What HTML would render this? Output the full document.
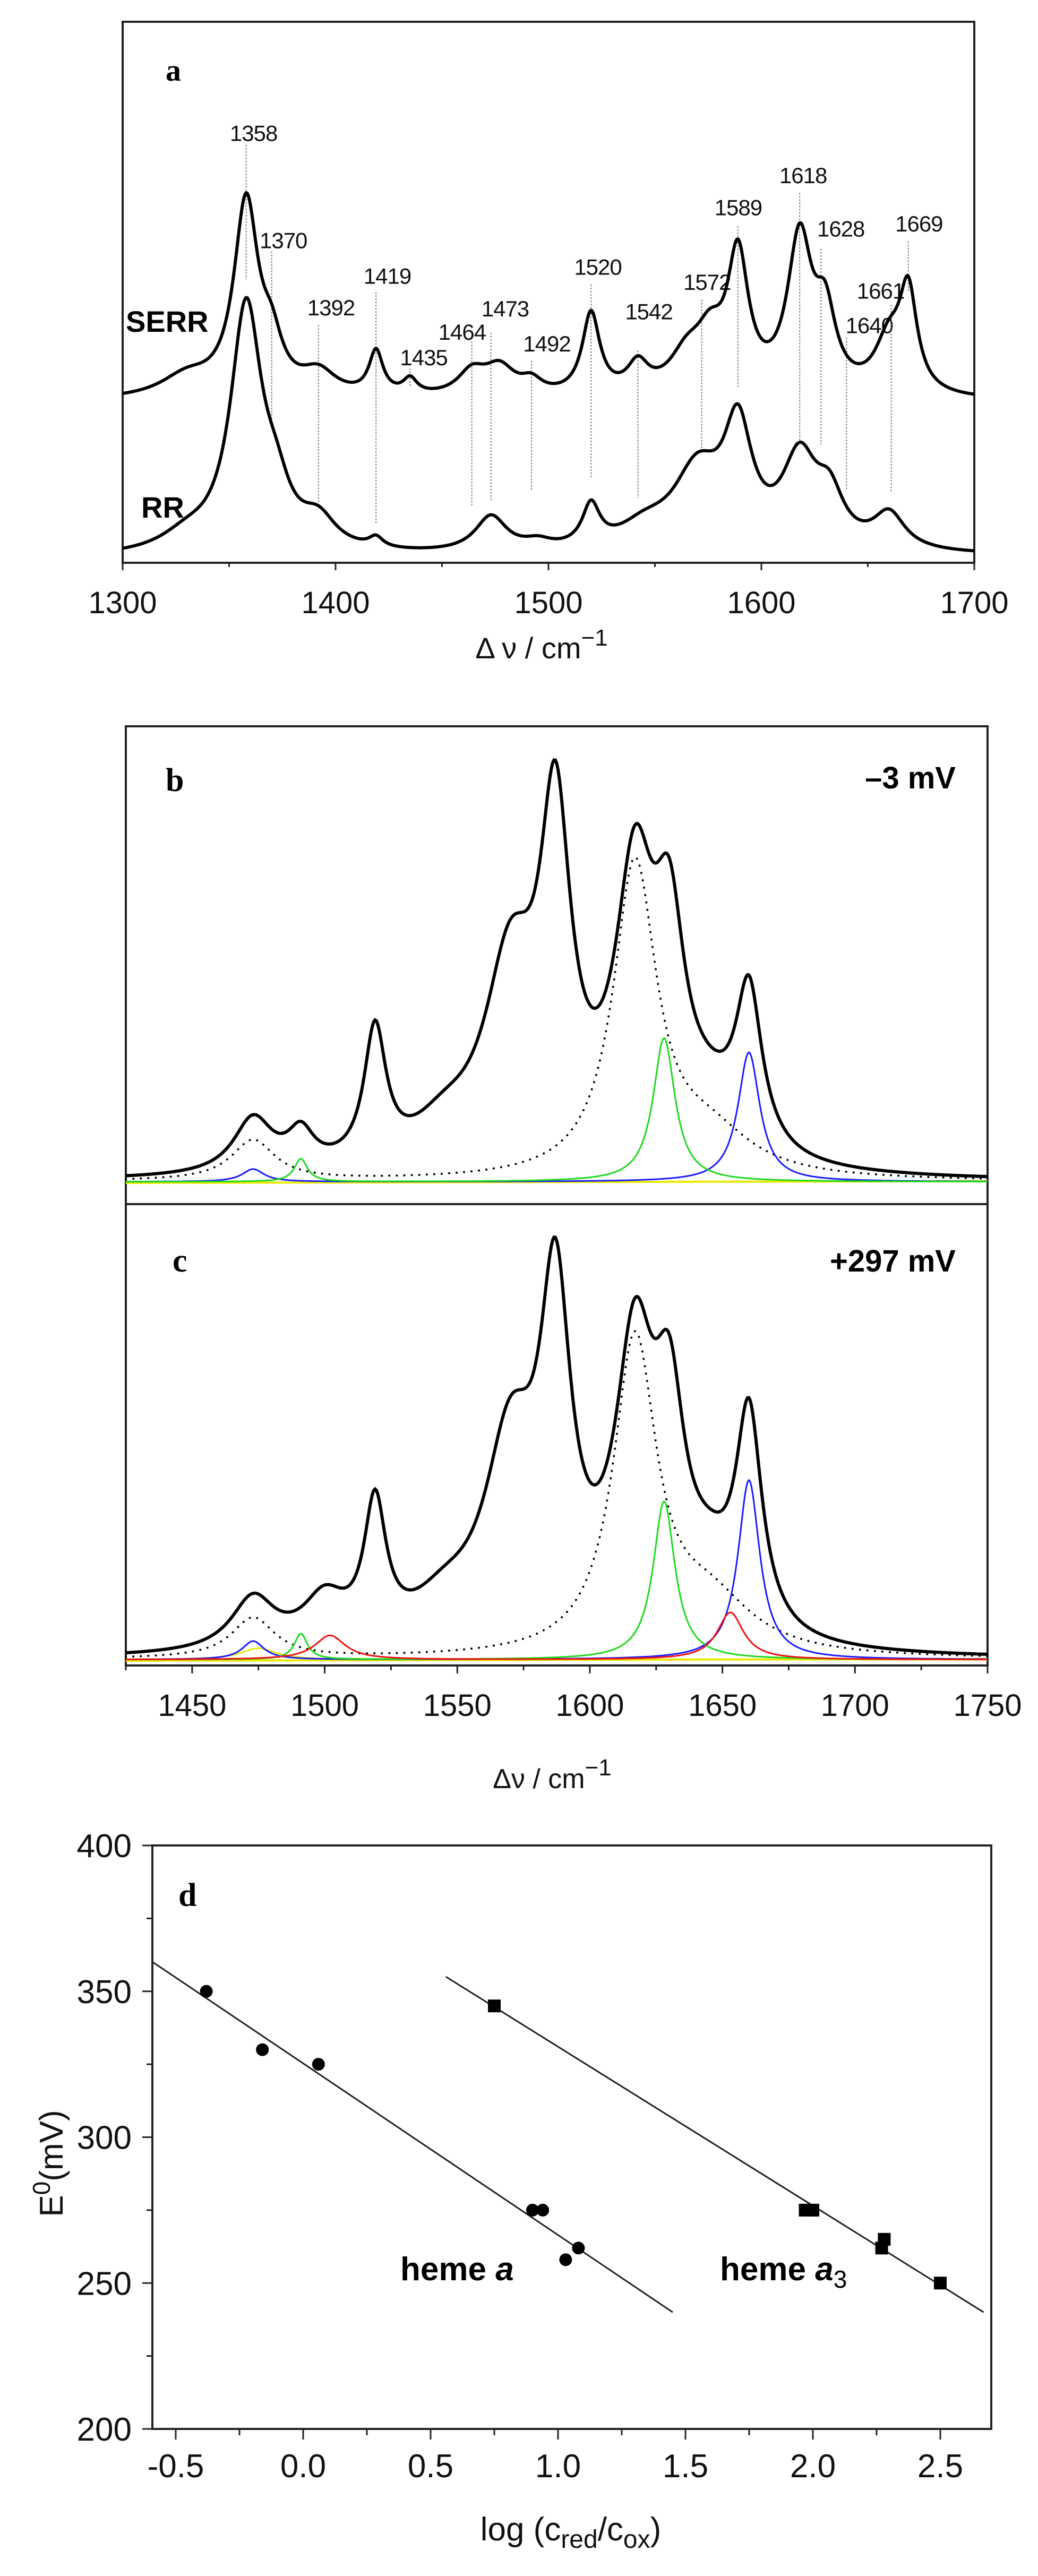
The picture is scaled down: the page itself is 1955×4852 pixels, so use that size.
<!DOCTYPE html>
<html><head><meta charset="utf-8"><style>
html,body{margin:0;padding:0;background:#fff;}
svg{display:block;font-family:"Liberation Sans",Arial,sans-serif;}
</style></head><body>
<svg id="fig" width="1955" height="4852" viewBox="0 0 1955 4852" xmlns="http://www.w3.org/2000/svg">
<rect width="1955" height="4852" fill="#fff"/>
<g id="pa"></g>
<g id="pbc"></g>
<g id="pd"></g>
</svg>
<script>
// ---------- Panel a data ----------
const aTicks = [1300,1400,1500,1600,1700];
const serrPeaks = [[1330,40,15],[1358,380,7],[1370,80,6],[1392,45,10],[1419,85,4],[1435,30,4],[1464,45,8],[1477,55,9],[1492,25,6],[1520,160,5],[1542,55,6],[1565,70,10],[1576,90,8],[1589,260,6],[1618,300,7],[1630,140,6],[1660,100,8],[1669,190,5]];
const rrPeaks = [[1330,30,15],[1358,480,9],[1372,80,8],[1392,55,10],[1419,20,4],[1473,70,9],[1495,15,8],[1520,80,5],[1545,40,15],[1570,150,14],[1589,220,8],[1618,170,10],[1632,90,8],[1660,70,9]];
const bandLabels = ['1358','1370','1392','1419','1435','1464','1473','1492','1520','1542','1572','1589','1618','1628','1640','1661','1669'];
const bandPos = [1358,1370,1392,1419,1435,1464,1473,1492,1520,1542,1572,1589,1618,1628,1640,1661,1669];
const bandLabelY = [262,473,605,543,703,653,607,676,525,613,555,408,345,450,640,572,440];
const bandLineTop = [285,495,640,575,725,672,655,710,560,690,590,445,380,490,665,600,475];
const bandLineBot = [550,830,990,1030,760,995,985,965,940,980,885,765,875,875,965,970,575];
const bandLabelX = [383,428,500,585,640,698,763,826,903,980,1068,1115,1213,1270,1313,1330,1388];

// ---------- Panel b/c data ----------
const bcTicks = [1450,1500,1550,1600,1650,1700,1750];
const bPeaks = [[1473,95,9],[1491,60,6],[1519,230,5],[1545,60,15],[1570,330,12],[1587,560,7],[1617,470,9],[1630,330,7],[1645,80,15],[1660,270,6]];
const cPeaks = [[1473,90,10],[1500,80,10],[1519,230,5],[1545,60,15],[1570,330,12],[1587,560,7],[1617,480,9],[1630,330,7],[1645,90,12],[1660,370,6]];
const bDotted = [[1617,540,10],[1645,70,20],[1473,70,10]];
const cDotted = [[1617,540,10],[1645,90,20],[1473,70,10]];
const bBlue = [[1473,22,5],[1660,225,5]];
const bGreen = [[1491,40,3],[1628,250,5]];
const cBlue = [[1473,32,5],[1660,312,5]];
const cGreen = [[1491,45,3],[1628,275,5]];
const cRed = [[1502,42,7],[1653,82,6]];
const cYellow = [[1475,20,8]];

// ---------- Panel d data ----------
const dXTicks = [-0.5,0.0,0.5,1.0,1.5,2.0,2.5];
const dYTicks = [200,250,300,350,400];
const hemeAx = [-0.38,-0.16,0.06,0.90,0.94,1.03,1.08];
const hemeAy = [350,330,325,275,275,258,262];
const hemeA3x = [0.75,1.97,2.00,2.27,2.28,2.50];
const hemeA3y = [345,275,275,262,265,250];
const fitA = [[-0.59,360],[1.45,240]];
const fitA3 = [[0.56,355],[2.67,240]];

const NS='http://www.w3.org/2000/svg';
function mk(parent,tag,attrs,text){const e=document.createElementNS(NS,tag);for(const k in attrs)e.setAttribute(k,attrs[k]);if(text!==undefined)e.textContent=text;parent.appendChild(e);return e;}
function lor(peaks,x){let s=0;for(const p of peaks){const d=(x-p[0])/p[2];s+=p[1]/(1+d*d);}return s;}
function pathFrom(peaks,x0,x1,step,X,Y){let d='';for(let x=x0;x<=x1+1e-9;x+=step){d+=(d?'L':'M')+X(x).toFixed(1)+','+Y(lor(peaks,x),x).toFixed(1);}return d;}

// ===== Panel a =====
const pa=document.getElementById('pa');
const aX=v=>231+(v-1300)*(1835-231)/400;
const serrY=(h,x)=>756-h*0.957;
const rrY=(h,x)=>1052-(x-1300)*0.01-h*0.957;
let e;
e=mk(pa,'rect',{x:231,y:41,width:1604,height:1019,fill:'none',stroke:'#222','stroke-width':4});

for(let v=1300;v<=1700;v+=50){e=mk(pa,'line',{x1:aX(v),x2:aX(v),y1:1060,y2:v%100===0?1074:1068,stroke:'#222','stroke-width':3});
}
aTicks.forEach(v=>{e=mk(pa,'text',{x:aX(v),y:1155,'font-size':58,'text-anchor':'middle',fill:'#111'},String(v));
});
e=mk(pa,'text',{x:1020,y:1240,'font-size':56,'text-anchor':'middle',fill:'#111'});

e.innerHTML='Δ ν / cm<tspan dy="-24" font-size="44">−1</tspan>';
e=mk(pa,'text',{x:312,y:152,'font-size':58,'font-weight':'bold','font-family':'Liberation Serif,serif',fill:'#000'},'a');

e=mk(pa,'text',{x:237,y:625,'font-size':56,'font-weight':'bold',fill:'#000'},'SERR');

e=mk(pa,'text',{x:266,y:975,'font-size':56,'font-weight':'bold',fill:'#000'},'RR');

bandPos.forEach((b,i)=>{
 e=mk(pa,'line',{x1:aX(b),x2:aX(b),y1:bandLineTop[i]*0.957,y2:bandLineBot[i]*0.957,stroke:'#777','stroke-width':2,'stroke-dasharray':'3,3'});
 
 e=mk(pa,'text',{x:bandLabelX[i]*1.247,y:bandLabelY[i]*0.957+15,'font-size':42,'text-anchor':'middle',fill:'#111','letter-spacing':'-1'},bandLabels[i]);
 
});
e=mk(pa,'path',{d:pathFrom(serrPeaks,1300,1700,0.5,aX,serrY),fill:'none',stroke:'#000','stroke-width':6,'stroke-linejoin':'round'});

e=mk(pa,'path',{d:pathFrom(rrPeaks,1300,1700,0.5,aX,rrY),fill:'none',stroke:'#000','stroke-width':6,'stroke-linejoin':'round'});


// ===== Panels b,c =====
const pbc=document.getElementById('pbc');
const bcX=v=>237+(v-1425)*(1860-237)/325;
const bY=(h,x)=>2226-h*1.084;
const cY=(h,x)=>3126-h*1.084;
const bBase=(h,x)=>2228-(x-1425)*0.01;
const cBase=(h,x)=>3128-(x-1425)*0.01;
e=mk(pbc,'rect',{x:237,y:1368,width:1623,height:1769,fill:'none',stroke:'#222','stroke-width':4});

e=mk(pbc,'line',{x1:237,x2:1860,y1:2268,y2:2268,stroke:'#222','stroke-width':4});

for(let v=1425;v<=1750;v+=25){e=mk(pbc,'line',{x1:bcX(v),x2:bcX(v),y1:3137,y2:v%50===0?3152:3146,stroke:'#222','stroke-width':3});
}
bcTicks.forEach(v=>{e=mk(pbc,'text',{x:bcX(v),y:3232,'font-size':58,'text-anchor':'middle',fill:'#111'},String(v));
});
e=mk(pbc,'text',{x:1040,y:3368,'font-size':52,'text-anchor':'middle',fill:'#111'});

e.innerHTML='Δν / cm<tspan dy="-24" font-size="44">−1</tspan>';
e=mk(pbc,'text',{x:312,y:1490,'font-size':62,'font-weight':'bold','font-family':'Liberation Serif,serif'},'b');

e=mk(pbc,'text',{x:325,y:2395,'font-size':62,'font-weight':'bold','font-family':'Liberation Serif,serif'},'c');

e=mk(pbc,'text',{x:1800,y:1485,'font-size':58,'font-weight':'bold','text-anchor':'end'},'–3 mV');

e=mk(pbc,'text',{x:1800,y:2395,'font-size':58,'font-weight':'bold','text-anchor':'end'},'+297 mV');

function comp(peaks,Y,color,w,name,dash){const o={d:pathFrom(peaks,1425,1750,0.5,bcX,Y),fill:'none',stroke:color,'stroke-width':w};if(dash){o['stroke-dasharray']=dash;o['stroke-linecap']='round';}
 const p=mk(pbc,'path',o);}
comp([],bBase,'#e8e800',4,'baseline-b');
comp([],cBase,'#e8e800',4,'baseline-c');
comp(bDotted,bY,'#000',4,'fit-envelope-b','0.1,14');
comp(cDotted,cY,'#000',4,'fit-envelope-c','0.1,14');
comp(bBlue,bY,'#1a1aff',3,'blue-component-b');
comp(bGreen,bY,'#1ed81e',3,'green-component-b');
comp(cYellow,cY,'#e8e800',3,'yellow-component-c');
comp(cBlue,cY,'#1a1aff',3,'blue-component-c');
comp(cGreen,cY,'#1ed81e',3,'green-component-c');
comp(cRed,cY,'#f01010',3,'red-component-c');
comp(bPeaks,bY,'#000',6,'spectrum-b');
comp(cPeaks,cY,'#000',6,'spectrum-c');

// ===== Panel d =====
const pd=document.getElementById('pd');
const dX=v=>331+(v+0.5)*480;
const dY=v=>4575-(v-200)*(4575-3476)/200;
e=mk(pd,'rect',{x:287,y:3476,width:1580,height:1099,fill:'none',stroke:'#222','stroke-width':4});

for(let v=200;v<=400;v+=25){e=mk(pd,'line',{x1:287,x2:v%50===0?268:276,y1:dY(v),y2:dY(v),stroke:'#222','stroke-width':3});
}
dYTicks.forEach(v=>{e=mk(pd,'text',{x:248,y:dY(v)+22,'font-size':62,'text-anchor':'end',fill:'#111'},String(v));
});
for(let v=-0.5;v<=2.51;v+=0.25){e=mk(pd,'line',{x1:dX(v),x2:dX(v),y1:4575,y2:Math.abs(v*2-Math.round(v*2))<1e-6?4595:4587,stroke:'#222','stroke-width':3});
}
dXTicks.forEach(v=>{e=mk(pd,'text',{x:dX(v),y:4666,'font-size':62,'text-anchor':'middle',fill:'#111'},v.toFixed(1));
});
e=mk(pd,'text',{x:1075,y:4785,'font-size':62,'text-anchor':'middle',fill:'#111'});

e.innerHTML='log (c<tspan dy="14" font-size="48">red</tspan><tspan dy="-14">/c</tspan><tspan dy="14" font-size="48">ox</tspan><tspan dy="-14">)</tspan>';
e=mk(pd,'text',{x:0,y:0,'font-size':62,'text-anchor':'middle',fill:'#111',transform:'translate(118,4075) rotate(-90)'});

e.innerHTML='E<tspan dy="-24" font-size="46">0</tspan><tspan dy="24">(mV)</tspan>';
e=mk(pd,'text',{x:336,y:3590,'font-size':62,'font-weight':'bold','font-family':'Liberation Serif,serif'},'d');

e=mk(pd,'line',{x1:dX(fitA[0][0]),y1:dY(fitA[0][1]),x2:dX(fitA[1][0]),y2:dY(fitA[1][1]),stroke:'#222','stroke-width':3});

e=mk(pd,'line',{x1:dX(fitA3[0][0]),y1:dY(fitA3[0][1]),x2:dX(fitA3[1][0]),y2:dY(fitA3[1][1]),stroke:'#222','stroke-width':3});

hemeAx.forEach((x,i)=>{e=mk(pd,'circle',{cx:dX(x),cy:dY(hemeAy[i]),r:12,fill:'#000'});
});
hemeA3x.forEach((x,i)=>{e=mk(pd,'rect',{x:dX(x)-12,y:dY(hemeA3y[i])-12,width:24,height:24,fill:'#000'});
});
e=mk(pd,'text',{x:754,y:4295,'font-size':62,'font-weight':'bold'});

e.innerHTML='heme <tspan font-style="italic">a</tspan>';
e=mk(pd,'text',{x:1356,y:4295,'font-size':62,'font-weight':'bold'});

e.innerHTML='heme <tspan font-style="italic">a</tspan><tspan dy="14" font-size="46" font-weight="normal">3</tspan>';
</script>
</body></html>
